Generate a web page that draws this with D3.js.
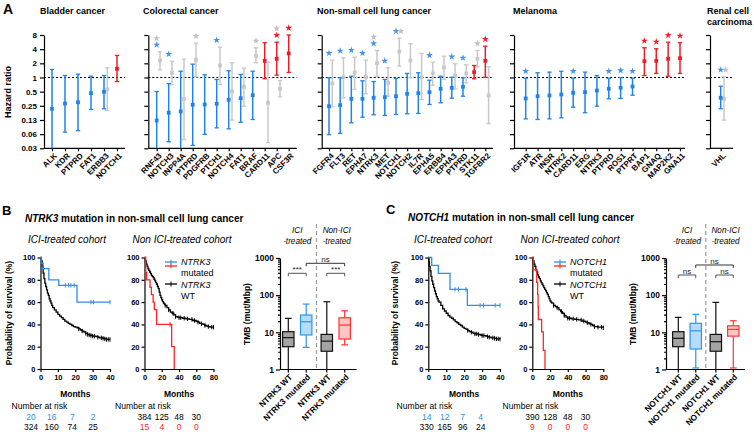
<!DOCTYPE html>
<html><head><meta charset="utf-8">
<script src="https://cdn.jsdelivr.net/npm/d3@7"></script>
<style>body{margin:0;background:#fff}</style>
</head><body>
<script>
// ===================== DATA =====================
// Panel A: hazard ratios [point, lower, upper]
const hrTicks = [8,4,2,1,0.5,0.25,0.125,0.0625,0.03125];
const hrTickLabels = ["8","4","2","1","0.5","0.25","0.13","0.06","0.03"];

const bladderGenes = ["ALK","KDR","PTPRD","FAT1","ERBB3","NOTCH1"];
const bladderICI = [[0.216,0.03,1.48],[0.28,0.069,1.10],[0.298,0.074,1.175],[0.464,0.209,1.066],[0.497,0.216,1.10],[1.53,0.82,2.94]];
const bladderNon = [null,null,null,null,[0.556,0.199,1.61],null];
const bladderSigICI = [0,0,0,0,0,0];
const bladderSigNon = [0,0,0,0,0,0];

const crcGenes = ["RNF43","NOTCH3","INPP4A","PTPRD","PDGFRB","PTCH1","NOTCH4","FAT1","BRAF","CARD11","APC","CSF3R"];
const crcICI = [[0.122,0.03,0.504],[0.178,0.043,0.745],[0.19,0.03,1.36],[0.263,0.036,1.92],[0.267,0.062,1.14],[0.276,0.085,0.907],[0.336,0.081,1.39],[0.363,0.112,1.16],[0.42,0.128,1.36],[2.26,0.94,5.47],[2.50,1.12,5.63],[3.24,1.28,8.09]];
const crcNon = [[2.30,1.46,3.52],[1.26,0.70,2.22],[0.352,0.048,2.45],[2.38,1.03,5.36],null,[1.80,0.71,4.41],[0.504,0.124,2.05],[0.634,0.245,1.58],[2.89,2.05,4.28],[0.29,0.041,2.11],[0.575,0.389,0.863],null];
const crcSigICI = [1,1,0,0,0,1,0,0,0,0,1,1];
const crcSigNon = [1,0,0,1,0,0,0,0,1,0,1,0];

const nsclcGenes = ["FGFR4","FLT3","RET","EPHA7","NTRK3","MET","NOTCH1","NOTCH2","IL7R","EPHA5","ERBB4","EPHA3","PTPRD","STK11","TGFBR2"];
const nsclcICI = [[0.245,0.061,0.985],[0.258,0.065,0.985],[0.352,0.109,1.066],[0.352,0.143,0.85],[0.37,0.161,0.82],[0.381,0.156,0.907],[0.40,0.164,0.952],[0.45,0.169,1.22],[0.464,0.172,1.26],[0.487,0.267,0.876],[0.575,0.29,1.066],[0.604,0.363,1.01],[0.634,0.40,0.985],[1.30,0.94,1.80],[2.26,1.01,4.63]];
const nsclcNon = [[0.745,0.238,2.33],[1.01,0.37,2.62],[1.26,0.556,2.70],[1.03,0.45,2.33],[2.01,1.066,3.75],[0.77,0.40,1.61],[3.52,1.74,6.85],[2.30,0.985,5.21],[1.01,0.34,3.24],[1.22,0.686,2.11],[1.63,0.907,2.84],[1.10,0.575,1.96],[1.22,0.77,1.86],[2.50,1.69,3.75],[0.415,0.104,1.69]];
const nsclcSigICI = [1,1,1,1,1,1,1,0,0,1,0,1,1,0,1];
const nsclcSigNon = [0,0,0,0,1,0,1,0,0,0,0,0,0,1,0];

const melGenes = ["IGF1R","ATR","INSR","NTRK2","CARD11","ERG","NTRK3","PTPRD","ROS1","PTPRT","BAP1","GNAQ","MAP2K2","GNA11"];
const melICI = [[0.358,0.132,0.966],[0.40,0.128,1.26],[0.415,0.132,1.30],[0.435,0.139,1.36],[0.473,0.234,0.966],[0.487,0.178,1.30],[0.529,0.245,1.10],[0.575,0.352,0.966],[0.604,0.358,1.0],[0.643,0.42,0.966],[2.22,1.10,4.28],[2.26,1.22,4.08],[2.50,1.066,5.63],[2.57,1.22,5.47]];
const melNon = melGenes.map(() => null);
const melSigICI = [1,0,0,0,1,0,0,1,1,1,1,1,1,1];
const melSigNon = melGenes.map(() => 0);

const rccGenes = ["VHL"];
const rccICI = [[0.37,0.216,0.653]];
const rccNon = [[0.352,0.124,1.03]];
const rccSigICI = [1];
const rccSigNon = [1];

const starsSideBySide = ["NSCLC:NOTCH1","RCC:VHL"];

// Panel B: KM curves [months, survival %]
const kmB_ici_mut = [[0,100],[0.4,95],[1.5,90],[4.8,80],[10.5,75],[21,60],[40,60]];
const kmB_ici_mut_cens = [14.3,16.2,17.5,19.4,29,30.5,40];
const kmB_ici_wt = [[0,100],[0.5,97],[1,92],[1.5,86],[2,81],[2.5,77],[3,74],[3.5,71],[4,68],[4.5,66],[5,63],[5.5,61],[6,59],[6.5,57],[7,55],[8,53],[9,51],[10,49],[11,47.5],[12,46],[13,44.5],[14,43],[15,42],[16,41],[17,40],[18,39],[19,38],[20,37.5],[21,37],[22,36],[23,35],[24,34],[25,33],[26,32],[27,31],[28,30.5],[29,30],[30,29.5],[32,29],[33,28.5],[34,28],[36,27.5],[37,27],[38,26.5],[40,26.5]];
const kmB_ici_wt_cens = [22,24,26,27,28,29,30,31,33,35,36,37,38,39,40];
const kmB_non_wt = [[0,100],[1,97],[2,94],[3,92],[4,90],[5,88.5],[6,87],[7,85.5],[8,84],[9,83],[10,82],[11,80.5],[12,79],[13,77.5],[14,76],[15,74],[16,72],[17,69],[18,66],[19,64],[20,62],[21,60.5],[22,59],[23,58],[24,57],[26,55],[28,53],[30,51],[32,50],[34,48.5],[36,47],[38,46.5],[40,46],[44,45.5],[48,45],[52,44.5],[56,43.5],[60,42.5],[62,42],[64,41],[66,40.5],[68,40],[70,39],[72,38.5],[74,38],[76,37.5],[80,37.5]];
const kmB_non_wt_cens = [24,28,33,36,40,42,46,50,55,58,62,66,70,74,78,80];
const kmB_non_mut = [[0,100],[1.4,86.7],[2.5,80],[6.4,73.3],[8,66.7],[10,60],[11.4,53.3],[14,40],[31.5,20],[34.5,0]];
const kmB_non_mut_cens = [29.6];

// Panel C: KM curves
const kmC_ici_mut = [[0,100],[1.9,92.9],[5.6,85.7],[12.1,71.4],[21.8,57.1],[40,57.1]];
const kmC_ici_mut_cens = [14.9,16.8,21,28.9,30.7,37.3,40];
const kmC_ici_wt = [[0,100],[0.3,96],[0.6,92],[1,88],[1.5,83],[2,79],[2.5,76],[3,73],[3.5,70],[4,67.5],[4.5,65],[5,63],[5.5,61],[6,60],[7,57],[8,54],[9,52],[10,50],[11,48],[12,46.5],[13,45.5],[14,44],[15,42.5],[16,41.5],[17,40],[18,39],[19,37.5],[20,36.5],[21,35.5],[22,34.5],[23,33.5],[24,33],[25,32],[26,31.5],[28,31],[29,30.5],[30,30],[32,29.6],[33,29],[34,28.5],[35,28],[37,27.5],[38,27],[40,26.8]];
const kmC_ici_wt_cens = [22,24,26,27,28,30,31,33,34,36,37,38,39,40];
const kmC_non_wt = [[0,100],[1,97],[2,94],[3,92],[4,89],[5,87],[6,84.5],[7,82.5],[8,81],[9,79],[10,77.5],[11,76],[12,74.5],[13,73],[14,71.5],[15,70],[16,68.5],[17,67],[18,65],[19,63],[20,61],[21,60],[22,59],[24,57],[26,56],[28,55],[30,53],[32,51.5],[34,50],[36,48],[38,46.5],[40,45.5],[44,45],[48,44.5],[52,44],[56,43],[60,42],[62,41.5],[64,40.5],[66,40],[68,39],[70,38],[74,37.5],[80,37]];
const kmC_non_wt_cens = [24,28,33,36,40,42,46,50,55,58,62,66,70,74,78,80];
const kmC_non_mut = [[0,100],[1.1,88.9],[5,77.8],[6,66.7],[6.5,55.6],[6.8,44.4],[10.5,33.3],[12.4,16.7],[14.3,0]];
const kmC_non_mut_cens = [];

// Numbers at risk
const riskTimesICI = [0,10,20,30];
const riskTimesNon = [0,20,40,60];
const riskB_ici_mut = [20,16,7,2];
const riskB_ici_wt = [324,160,74,25];
const riskB_non_wt = [384,125,48,30];
const riskB_non_mut = [15,4,0,0];
const riskC_ici_mut = [14,12,7,4];
const riskC_ici_wt = [330,165,96,24];
const riskC_non_wt = [390,128,48,30];
const riskC_non_mut = [9,0,0,0];

// TMB boxes [low whisker, q1, median, q3, high whisker]
const tmbB_labels = ["NTRK3 WT","NTRK3 mutated","NTRK3 WT","NTRK3 mutated"];
const tmbB = [[1,4.1,7.2,10.4,23.8],[3.95,8.5,19.3,29.2,57.6],[1,3.1,5.8,8.8,66.5],[4.6,6.6,15.7,24.7,38]];
const tmbB_sig = ["***","***","ns"];
const tmbC_labels = ["NOTCH1 WT","NOTCH1 mutated","NOTCH1 WT","NOTCH1 mutated"];
const tmbC = [[1,4.1,6.9,10.4,25.3],[1.1,3.56,11,17.5,30.5],[1,3.1,5.6,8.8,64],[1.1,7.9,12,15,20.5]];
const tmbC_sig = ["ns","ns","ns"];
const tmbTicks = [1,10,100,1000];

// ===================== DRAW =====================
const F = '"Liberation Sans", Arial, Helvetica, sans-serif';
const blueA = "#1f83e8", blueStar = "#3d95f0", redA = "#ee1c25", greyA = "#c8c8c8";
const kmBlue = "#2b8ef0", kmRed = "#ff2525";

const svg = d3.select("body").append("svg").attr("width",754).attr("height",432)
  .style("font-family",F).style("background","#fff");

function txt(x,y,s,o={}) {
  const t = svg.append("text").attr("x",x).attr("y",y).text(s)
    .attr("font-size",o.size||9).attr("font-weight",o.bold?"bold":"normal")
    .attr("font-style",o.italic?"italic":"normal").attr("fill",o.color||"#000")
    .attr("text-anchor",o.anchor||"start");
  if (o.rotate) t.attr("transform",`rotate(${o.rotate},${x},${y})`);
  return t;
}
function styleAxis(g, fs, bold) {
  g.attr("font-family",F).attr("font-size",fs).attr("font-weight",bold?"bold":"normal");
  g.selectAll("path.domain").attr("stroke","#000").attr("stroke-width",1.2);
  g.selectAll(".tick line").attr("stroke","#000").attr("stroke-width",1.2);
  g.selectAll(".tick text").attr("fill","#000");
}

// ----- Panel A -----
txt(3,14,"A",{size:14,bold:true});
const yA = d3.scaleLog().base(2).domain([0.03125,8]).range([148.3,35]).clamp(true);
const panelsA = [
  {key:"BLADDER",title:["Bladder cancer"],tx:40,genes:bladderGenes,ici:bladderICI,non:bladderNon,sI:bladderSigICI,sN:bladderSigNon,axisX:44,x0:52,x1:117,endX:125,labels:true},
  {key:"CRC",title:["Colorectal cancer"],tx:143,genes:crcGenes,ici:crcICI,non:crcNon,sI:crcSigICI,sN:crcSigNon,axisX:148.3,x0:156.7,x1:288.7,endX:296.7},
  {key:"NSCLC",title:["Non-small cell lung cancer"],tx:317,genes:nsclcGenes,ici:nsclcICI,non:nsclcNon,sI:nsclcSigICI,sN:nsclcSigNon,axisX:321.7,x0:329,x1:485.3,endX:493},
  {key:"MEL",title:["Melanoma"],tx:513,genes:melGenes,ici:melICI,non:melNon,sI:melSigICI,sN:melSigNon,axisX:514,x0:525.7,x1:680,endX:685},
  {key:"RCC",title:["Renal cell","carcinoma"],tx:707,genes:rccGenes,ici:rccICI,non:rccNon,sI:rccSigICI,sN:rccSigNon,axisX:710,x0:720.7,x1:720.7,endX:733}
];
txt(11,92,"Hazard ratio",{size:9,bold:true,anchor:"middle",rotate:-90});

function errBar(g,x,v,color){
  const [pt,lo,up]=v;
  g.append("line").attr("x1",x).attr("x2",x).attr("y1",yA(lo)).attr("y2",yA(up)).attr("stroke",color).attr("stroke-width",1.5);
  [lo,up].forEach(b=>{ if(b>0.0315) g.append("line").attr("x1",x-2.2).attr("x2",x+2.2).attr("y1",yA(b)).attr("y2",yA(b)).attr("stroke",color).attr("stroke-width",1.3);});
  g.append("rect").attr("x",x-1.9).attr("y",yA(pt)-1.9).attr("width",3.8).attr("height",3.8).attr("fill",color);
}
const star = d3.symbol().type(d3.symbolStar).size(15);
function drawStar(g,x,y,color){ g.append("path").attr("d",star()).attr("transform",`translate(${x},${y})`).attr("fill",color); }

panelsA.forEach(p=>{
  const g = svg.append("g");
  p.title.forEach((t,i)=> txt(p.tx, (p.title.length>1?13.5:14)+i*11.5, t, {size:9,bold:true}));
  const xs = d3.scalePoint().domain(p.genes).range([p.x0,p.x1]);
  const ya = g.append("g").attr("transform",`translate(${p.axisX},0)`)
    .call(d3.axisLeft(yA).tickValues(hrTicks).tickFormat((d,i)=>p.labels?hrTickLabels[i]:"").tickSize(4).tickSizeOuter(0).tickPadding(3));
  styleAxis(ya,8,true);
  const yb = yA.range()[0];
  g.append("line").attr("x1",p.axisX).attr("x2",p.endX).attr("y1",yb).attr("y2",yb).attr("stroke","#000").attr("stroke-width",1.2);
  const xa = g.append("g").attr("transform",`translate(0,${yb})`).call(d3.axisBottom(xs).tickSize(3).tickSizeOuter(0));
  xa.select(".domain").remove();
  styleAxis(xa,8,true);
  xa.selectAll(".tick text").attr("x",0).attr("y",0).attr("dy","0.35em").attr("text-anchor","end")
    .attr("transform","translate(3,6) rotate(-45)");
  // reference line HR=1
  g.append("line").attr("x1",p.axisX).attr("x2",p.endX).attr("y1",yA(1)).attr("y2",yA(1))
    .attr("stroke","#000").attr("stroke-width",1.1).attr("stroke-dasharray","2,2");
  p.genes.forEach((gene,i)=>{
    const x = xs(gene), xg = x+3.3;
    const ici = p.ici[i], non = p.non[i];
    if (non) errBar(g,xg,non,greyA);
    const col = ici[0]>1?redA:blueA;
    errBar(g,x,ici,col);
    const top = yA(Math.max(ici[2], non?non[2]:0));
    const sc = ici[0]>1?redA:blueStar;
    const side = starsSideBySide.includes(p.key+":"+gene);
    if (p.sI[i] && p.sN[i]) {
      if (side) { drawStar(g,x,top-7,sc); drawStar(g,x+5,top-7,"#c0c0c0"); }
      else { drawStar(g,x,top-7,sc); drawStar(g,x,top-13.5,"#c0c0c0"); }
    } else if (p.sI[i]) drawStar(g,x,top-7,sc);
    else if (p.sN[i]) drawStar(g,xg,top-7,"#c0c0c0");
  });
});

// ----- KM plots -----
const yKM = d3.scaleLinear().domain([0,100]).range([369,257.5]);
function survAt(data,t){ let s=data[0][1]; for(const d of data){ if(d[0]<=t) s=d[1]; } return s; }
function kmPlot(o){
  const x = d3.scaleLinear().domain([0,o.maxT]).range([o.x0,o.x1]);
  const g = svg.append("g");
  const ya = g.append("g").attr("transform",`translate(${o.x0},0)`)
    .call(d3.axisLeft(yKM).tickValues([0,20,40,60,80,100]).tickSize(3).tickSizeOuter(0).tickPadding(2));
  styleAxis(ya,7.5,true);
  const xa = g.append("g").attr("transform",`translate(0,${yKM(0)})`)
    .call(d3.axisBottom(x).tickValues(d3.range(0,o.maxT+1,o.step)).tickSize(3).tickSizeOuter(0).tickPadding(2));
  styleAxis(xa,7.5,true);
  xa.selectAll(".tick text").attr("dy","0.85em");
  txt((o.x0+o.x1)/2,397,"Months",{size:8.5,bold:true,anchor:"middle"});
  const line = d3.line().x(d=>x(d[0])).y(d=>yKM(d[1])).curve(d3.curveStepAfter);
  o.curves.forEach(c=>{
    g.append("path").attr("d",line(c.data)).attr("fill","none").attr("stroke",c.color).attr("stroke-width",1.3);
    c.cens.forEach(t=>{
      const yy = yKM(survAt(c.data,t));
      g.append("line").attr("x1",x(t)).attr("x2",x(t)).attr("y1",yy-2.2).attr("y2",yy+2.2).attr("stroke",c.color).attr("stroke-width",1);
    });
  });
  return x;
}
function riskTable(xScale,times,label_x,rows){
  txt(label_x,409,"Number at risk",{size:8.6});
  rows.forEach((r,ri)=>{
    r.vals.forEach((v,i)=> txt(xScale(times[i]),420+ri*10,String(v),{size:8.5,anchor:"middle",color:r.color}));
  });
}
function legendKM(x0,gene){
  const g = svg.append("g");
  [[262,kmBlue],[266,kmRed],[284,"#000"]].forEach(([y,c])=>{
    g.append("line").attr("x1",x0).attr("x2",x0+12).attr("y1",y).attr("y2",y).attr("stroke",c).attr("stroke-width",1.3);
    g.append("line").attr("x1",x0+6).attr("x2",x0+6).attr("y1",y-2.5).attr("y2",y+2.5).attr("stroke",c).attr("stroke-width",1);
  });
  txt(x0+16,264.5,gene,{size:9,italic:true});
  txt(x0+16,275.5,"mutated",{size:9});
  txt(x0+16,288,gene,{size:9,italic:true});
  txt(x0+16,298.5,"WT",{size:9});
}

// ----- TMB boxplots -----
const yT = d3.scaleLog().domain([1,1000]).range([369.5,258]);
const boxPos = [0,1,2.15,3.15];
function boxPlot(o){
  const g = svg.append("g");
  const xs = d3.scaleLinear().domain([0,3.15]).range([o.b0,o.b3]);
  const ya = g.append("g").attr("transform",`translate(${o.axisX},0)`)
    .call(d3.axisLeft(yT).tickValues(tmbTicks).tickFormat(d3.format("d")).tickSize(4).tickSizeOuter(0).tickPadding(2));
  styleAxis(ya,8.5,true);
  const minor = [];
  [1,10,100].forEach(dec=>{ for(let k=2;k<10;k++) minor.push(dec*k); });
  const ym = g.append("g").attr("transform",`translate(${o.axisX},0)`)
    .call(d3.axisLeft(yT).tickValues(minor).tickFormat("").tickSize(2));
  ym.select(".domain").remove(); styleAxis(ym,8,true);
  g.append("line").attr("x1",o.axisX).attr("x2",o.endX).attr("y1",yT(1)).attr("y2",yT(1)).attr("stroke","#000").attr("stroke-width",1.2);
  txt(o.axisX-30,314,"TMB (mut/Mbp)",{size:8.5,bold:true,anchor:"middle",rotate:-90});
  // separator
  const sep = xs((boxPos[1]+boxPos[2])/2);
  g.append("line").attr("x1",sep).attr("x2",sep).attr("y1",224).attr("y2",yT(1)).attr("stroke","#9a9a9a").attr("stroke-width",1.2).attr("stroke-dasharray","4,3");
  const c1 = (xs(boxPos[0])+xs(boxPos[1]))/2, c2 = (xs(boxPos[2])+xs(boxPos[3]))/2;
  txt(c1,233,"ICI",{size:8.2,italic:true,anchor:"middle"});
  txt(c1,244,"-treated",{size:8.2,italic:true,anchor:"middle"});
  txt(c2+1,233,"Non-ICI",{size:8.2,italic:true,anchor:"middle"});
  txt(c2+1,244,"-treated",{size:8.2,italic:true,anchor:"middle"});
  const styles = [{f:"#a4a4a4",s:"#111"},{f:"#b5dcfa",s:"#2b95f0"},{f:"#a4a4a4",s:"#111"},{f:"#ffc4c4",s:"#ff3535"}];
  o.data.forEach((d,i)=>{
    const c = xs(boxPos[i]), st = styles[i], hw = 5.7, cw = 3.4;
    const [lo,q1,md,q3,hi] = d;
    g.append("line").attr("x1",c).attr("x2",c).attr("y1",yT(hi)).attr("y2",yT(q3)).attr("stroke",st.s).attr("stroke-width",1.2);
    g.append("line").attr("x1",c).attr("x2",c).attr("y1",yT(q1)).attr("y2",yT(lo)).attr("stroke",st.s).attr("stroke-width",1.2);
    g.append("line").attr("x1",c-cw).attr("x2",c+cw).attr("y1",yT(hi)).attr("y2",yT(hi)).attr("stroke",st.s).attr("stroke-width",1.2);
    if (lo>1.01) g.append("line").attr("x1",c-cw).attr("x2",c+cw).attr("y1",yT(lo)).attr("y2",yT(lo)).attr("stroke",st.s).attr("stroke-width",1.2);
    g.append("rect").attr("x",c-hw).attr("y",yT(q3)).attr("width",2*hw).attr("height",yT(q1)-yT(q3)).attr("fill",st.f).attr("stroke",st.s).attr("stroke-width",1.2);
    g.append("line").attr("x1",c-hw).attr("x2",c+hw).attr("y1",yT(md)).attr("y2",yT(md)).attr("stroke",st.s).attr("stroke-width",1.2);
    g.append("line").attr("x1",c).attr("x2",c).attr("y1",yT(1)).attr("y2",yT(1)+3).attr("stroke","#000").attr("stroke-width",1.2);
    g.append("text").attr("x",0).attr("y",0).attr("dy","0.35em").attr("text-anchor","end")
      .attr("transform",`translate(${c+2.5},${yT(1)+6}) rotate(-45)`).attr("font-size",8.3).attr("font-weight","bold").text(o.labels[i]);
  });
  // brackets
  const br = [[0,1,o.brY],[2,3,o.brY],[1,3,o.brY-10]];
  br.forEach(([a,b,yy],k)=>{
    const xa = xs(boxPos[a]), xb = xs(boxPos[b]);
    const col = k<2?"#555":"#333";
    g.append("path").attr("d",`M${xa},${yy+3}V${yy}H${xb}V${yy+3}`).attr("fill","none").attr("stroke",col).attr("stroke-width",1);
    g.append("text").attr("x",(xa+xb)/2).attr("y",yy-1.5).attr("text-anchor","middle").attr("font-size",8).attr("fill","#222").text(o.sig[k]);
  });
}

// ----- Panel B -----
txt(2,215,"B",{size:13,bold:true});
const tB = txt(25,221.5,"",{size:10,bold:true});
tB.append("tspan").attr("font-style","italic").text("NTRK3");
tB.append("tspan").text(" mutation in non-small cell lung cancer");
txt(67,243,"ICI-treated cohort",{size:10,italic:true,anchor:"middle"});
txt(182,243,"Non ICI-treated cohort",{size:10,italic:true,anchor:"middle"});
txt(12,313,"Probability of survival (%)",{size:8.5,bold:true,anchor:"middle",rotate:-90});
const xB1 = kmPlot({x0:40.5,x1:110,maxT:40,step:10,curves:[
  {data:kmB_ici_wt,cens:kmB_ici_wt_cens,color:"#000"},
  {data:kmB_ici_mut,cens:kmB_ici_mut_cens,color:kmBlue}]});
const xB2 = kmPlot({x0:144.5,x1:213.5,maxT:80,step:20,curves:[
  {data:kmB_non_wt,cens:kmB_non_wt_cens,color:"#000"},
  {data:kmB_non_mut,cens:kmB_non_mut_cens,color:kmRed}]});
legendKM(165,"NTRK3");
riskTable(d3.scaleLinear().domain([0,30]).range([31,93]),riskTimesICI,11.5,[{vals:riskB_ici_mut,color:kmBlue},{vals:riskB_ici_wt,color:"#000"}]);
riskTable(xB2,riskTimesNon,115,[{vals:riskB_non_wt,color:"#000"},{vals:riskB_non_mut,color:kmRed}]);
boxPlot({axisX:280,b0:288.3,b3:344.7,endX:356.7,data:tmbB,labels:tmbB_labels,sig:tmbB_sig,brY:273.3});

// ----- Panel C -----
txt(386,214,"C",{size:13,bold:true});
const tC = txt(408,221,"",{size:10,bold:true});
tC.append("tspan").attr("font-style","italic").text("NOTCH1");
tC.append("tspan").text(" mutation in non-small cell lung cancer");
txt(453,243,"ICI-treated cohort",{size:10,italic:true,anchor:"middle"});
txt(570,243,"Non ICI-treated cohort",{size:10,italic:true,anchor:"middle"});
txt(398,313,"Probability of survival (%)",{size:8.5,bold:true,anchor:"middle",rotate:-90});
const xC1 = kmPlot({x0:428.3,x1:500,maxT:40,step:10,curves:[
  {data:kmC_ici_wt,cens:kmC_ici_wt_cens,color:"#000"},
  {data:kmC_ici_mut,cens:kmC_ici_mut_cens,color:kmBlue}]});
const xC2 = kmPlot({x0:532.3,x1:603.3,maxT:80,step:20,curves:[
  {data:kmC_non_wt,cens:kmC_non_wt_cens,color:"#000"},
  {data:kmC_non_mut,cens:kmC_non_mut_cens,color:kmRed}]});
legendKM(554,"NOTCH1");
riskTable(d3.scaleLinear().domain([0,30]).range([426.7,480.7]),riskTimesICI,396.5,[{vals:riskC_ici_mut,color:kmBlue},{vals:riskC_ici_wt,color:"#000"}]);
riskTable(xC2,riskTimesNon,502.5,[{vals:riskC_non_wt,color:"#000"},{vals:riskC_non_mut,color:kmRed}]);
boxPlot({axisX:666,b0:678.3,b3:733.3,endX:745,data:tmbC,labels:tmbC_labels,sig:tmbC_sig,brY:275});
</script>
</body></html>
